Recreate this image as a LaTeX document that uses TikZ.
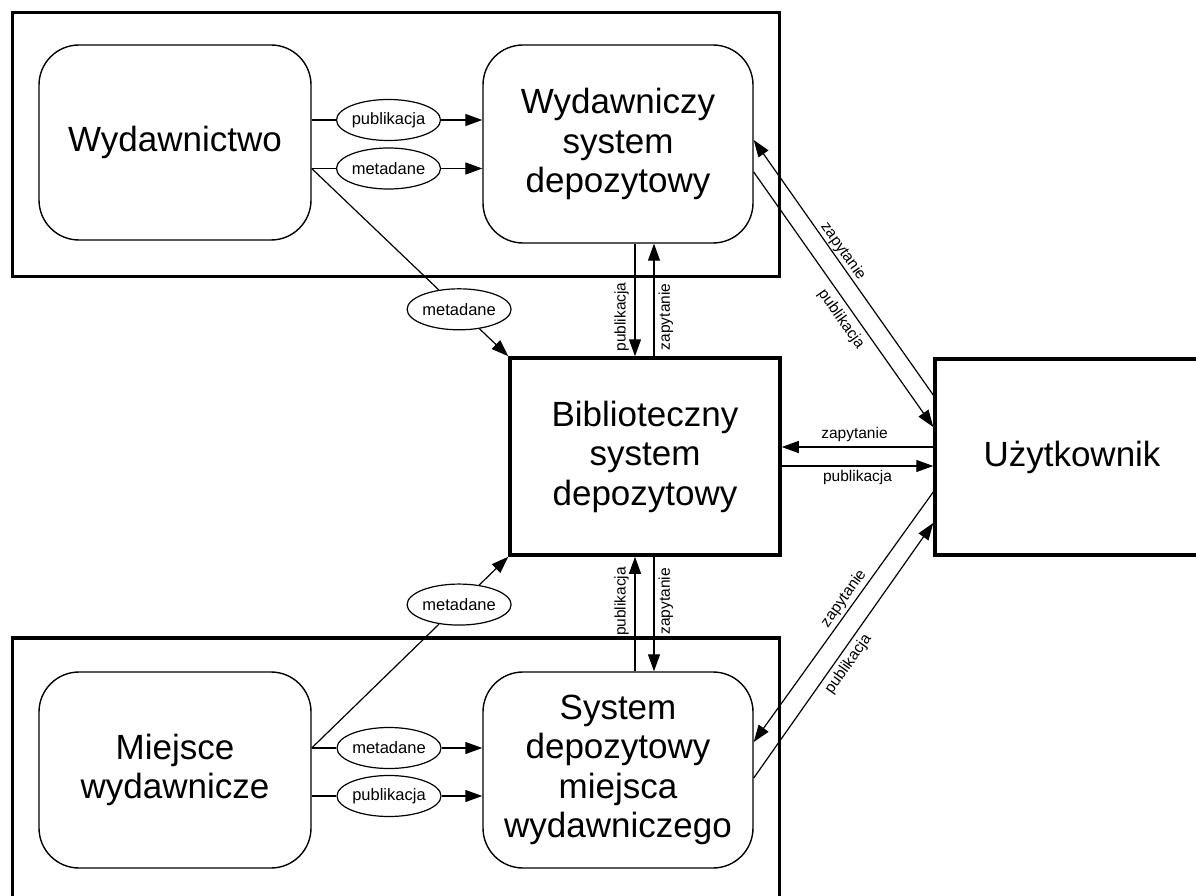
\documentclass[tikz,border=0pt]{standalone}
\usepackage{fontspec}
\setmainfont{Liberation Sans}
\usetikzlibrary{arrows.meta,shapes.geometric}
\begin{document}
\begin{tikzpicture}[x=1pt,y=-1pt,
 big/.style={font=\fontsize{35}{39.5}\selectfont, align=center},
 outerbox/.style={draw, line width=3.5pt, inner sep=0pt},
 thickbox/.style={draw, line width=3.5pt, inner sep=0pt, big},
 roundbox/.style={draw, line width=1.4pt, rounded corners=40pt, inner sep=0pt, big},
 ell/.style={draw, ellipse, line width=1.2pt, minimum width=104pt, minimum height=41pt, inner sep=0pt, fill=white, font=\fontsize{16.5}{19}\selectfont},
 conn/.style={line width=1.2pt},
 arr/.style={conn, -{Triangle[length=17pt,width=12pt]}},
 rarr/.style={conn, {Triangle[length=17pt,width=12pt]}-},
 lab/.style={font=\fontsize{15.5}{18}\selectfont, inner sep=0pt, sloped},
]
\useasboundingbox (0,0) rectangle (1196,896);
% containers
\node[outerbox, minimum width=767pt, minimum height=264pt] (top) at (396,144.5) {};
\node[outerbox, minimum width=767pt, minimum height=300pt] (bot) at (396,788) {};
% main nodes
\node[roundbox, minimum width=272pt, minimum height=195pt] (wyd) at (175,142.5) {Wydawnictwo};
\node[roundbox, minimum width=270pt, minimum height=198pt] (wds) at (618,144) {Wydawniczy\\system\\depozytowy};
\node[thickbox, minimum width=270pt, minimum height=197pt] (bib) at (645,456.5) {Biblioteczny\\system\\depozytowy};
\node[thickbox, minimum width=274pt, minimum height=196pt] (usr) at (1072,457) {Użytkownik};
\node[roundbox, minimum width=272pt, minimum height=196pt] (mie) at (175,770) {Miejsce\\wydawnicze};
\node[roundbox, minimum width=270pt, minimum height=196pt] (sys) at (618,770) {System\\depozytowy\\miejsca\\wydawniczego};
% ellipses
\node[ell] (e1) at (388.5,120) {publikacja};
\node[ell] (e2) at (388.5,168.5) {metadane};
\node[ell] (e5) at (389,748) {metadane};
\node[ell] (e6) at (389,796) {publikacja};
\path (wyd.east |- e2) -- (bib.north west) node[ell, pos=0.75] (e3) {metadane};
\path (mie.east |- e5) -- (bib.south west) node[ell, pos=0.75] (e4) {metadane};
% top horizontal connectors
\draw[conn] (wyd.east |- e1) -- (e1);
\draw[arr] (e1) -- (wds.west |- e1);
\draw[conn] (wyd.east |- e2) -- (e2);
\draw[arr] (e2) -- (wds.west |- e2);
\draw[conn] (wyd.east |- e2) -- (e3);
\draw[arr] (e3) -- (bib.north west);
% bottom horizontal connectors
\draw[conn] (mie.east |- e5) -- (e5);
\draw[arr] (e5) -- (sys.west |- e5);
\draw[conn] (mie.east |- e6) -- (e6);
\draw[arr] (e6) -- (sys.west |- e6);
\draw[conn] (mie.east |- e5) -- (e4);
\draw[arr] (e4) -- (bib.south west);
% verticals top
\draw[rarr] ([xshift=-10pt]bib.north) -- ([xshift=-10pt]bib.north |- wds.south) node[lab,pos=0.35,above=5.5pt] {publikacja};
\draw[arr] ([xshift=9pt]bib.north) -- ([xshift=9pt]bib.north |- wds.south) node[lab,pos=0.35,below=4pt] {zapytanie};
% verticals bottom
\draw[arr] ([xshift=-10pt]bib.south |- sys.north) -- ([xshift=-10pt]bib.south) node[lab,pos=0.61,above=5.5pt] {publikacja};
\draw[rarr] ([xshift=9pt]bib.south |- sys.north) -- ([xshift=9pt]bib.south) node[lab,pos=0.61,below=4pt] {zapytanie};
% horizontal bib - usr
\draw[rarr] ([yshift=9.5pt]bib.east) -- ([yshift=9.5pt]bib.east -| usr.west) node[lab,pos=0.48,above=4.8pt] {zapytanie};
\draw[arr] ([yshift=-9.5pt]bib.east) -- ([yshift=-9.5pt]bib.east -| usr.west) node[lab,pos=0.5,below=3.7pt] {publikacja};
% top diagonals
\draw[rarr] ([yshift=4pt]wds.east) -- ([yshift=62pt]usr.west) node[lab,pos=0.457,above=1pt] {zapytanie};
\draw[arr] ([yshift=-28pt]wds.east) -- ([yshift=30pt]usr.west) node[lab,pos=0.547,below=5.6pt] {publikacja};
% bottom diagonals
\draw[rarr] ([yshift=28pt]sys.east) -- ([yshift=-35pt]usr.west) node[lab,pos=0.549,above=2.5pt] {zapytanie};
\draw[arr] ([yshift=-8pt]sys.east) -- ([yshift=-66pt]usr.west) node[lab,pos=0.473,below=4.2pt] {publikacja};
\end{tikzpicture}
\end{document}
